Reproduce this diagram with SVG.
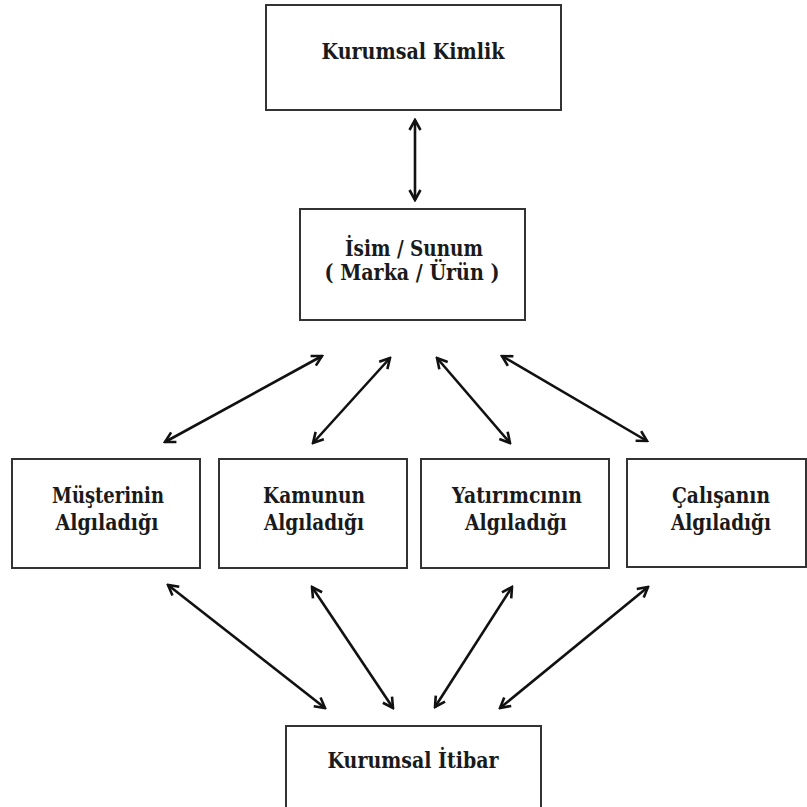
<svg xmlns="http://www.w3.org/2000/svg" width="807" height="807" viewBox="0 0 807 807">
<defs>
<style>
.box{fill:#fff;stroke:#333;stroke-width:2}
.t{font-family:'DejaVu Serif','Liberation Serif',serif;font-weight:700;font-size:22px;fill:#1a1a1a;text-anchor:middle}
.c{stroke:#111;stroke-width:2.6;fill:none;marker-start:url(#ah);marker-end:url(#ah)}
</style>
<marker id="ah" viewBox="0 0 14 14" refX="12" refY="7" markerWidth="14" markerHeight="14" markerUnits="userSpaceOnUse" orient="auto-start-reverse">
<path d="M2,1.5 L12,7 L2,12.5" fill="none" stroke="#111" stroke-width="2.6" stroke-linejoin="miter"/>
</marker>
</defs>
<rect width="807" height="807" fill="#fff"/>
<g id="connectors">
<line class="c" x1="415" y1="120" x2="415" y2="200"/>
<line class="c" x1="165" y1="442" x2="322" y2="356"/>
<line class="c" x1="313" y1="443" x2="390" y2="358"/>
<line class="c" x1="437" y1="358" x2="510" y2="443"/>
<line class="c" x1="502" y1="356" x2="647" y2="441"/>
<line class="c" x1="168" y1="585" x2="325" y2="708"/>
<line class="c" x1="312" y1="587" x2="393" y2="708"/>
<line class="c" x1="512" y1="587" x2="435" y2="707"/>
<line class="c" x1="648" y1="587" x2="500" y2="708"/>
</g>
<g id="kurumsal-kimlik">
<rect class="box" x="266" y="5" width="295" height="105"/>
<text class="t" x="413" y="59" textLength="183" lengthAdjust="spacingAndGlyphs">Kurumsal Kimlik</text>
</g>
<g id="isim-sunum">
<rect class="box" x="300" y="209" width="225" height="111"/>
<text class="t" x="414" y="256" textLength="138" lengthAdjust="spacingAndGlyphs">İsim / Sunum</text>
<text class="t" x="412" y="280" textLength="175" lengthAdjust="spacingAndGlyphs">( Marka / Ürün )</text>
</g>
<g id="musteri">
<rect class="box" x="12" y="459" width="188" height="109"/>
<text class="t" x="108" y="503" textLength="112" lengthAdjust="spacingAndGlyphs">Müşterinin</text>
<text class="t" x="107" y="530" textLength="103" lengthAdjust="spacingAndGlyphs">Algıladığı</text>
</g>
<g id="kamu">
<rect class="box" x="219" y="459" width="188" height="109"/>
<text class="t" x="314" y="503" textLength="102" lengthAdjust="spacingAndGlyphs">Kamunun</text>
<text class="t" x="314" y="530" textLength="100" lengthAdjust="spacingAndGlyphs">Algıladığı</text>
</g>
<g id="yatirimci">
<rect class="box" x="421" y="459" width="188" height="109"/>
<text class="t" x="517" y="503" textLength="130" lengthAdjust="spacingAndGlyphs">Yatırımcının</text>
<text class="t" x="516" y="530" textLength="102" lengthAdjust="spacingAndGlyphs">Algıladığı</text>
</g>
<g id="calisan">
<rect class="box" x="627" y="459" width="179" height="108"/>
<text class="t" x="721" y="503" textLength="98" lengthAdjust="spacingAndGlyphs">Çalışanın</text>
<text class="t" x="721" y="530" textLength="100" lengthAdjust="spacingAndGlyphs">Algıladığı</text>
</g>
<g id="kurumsal-itibar">
<rect class="box" x="286" y="726" width="255" height="90"/>
<text class="t" x="413" y="768" textLength="171" lengthAdjust="spacingAndGlyphs">Kurumsal İtibar</text>
</g>
</svg>
